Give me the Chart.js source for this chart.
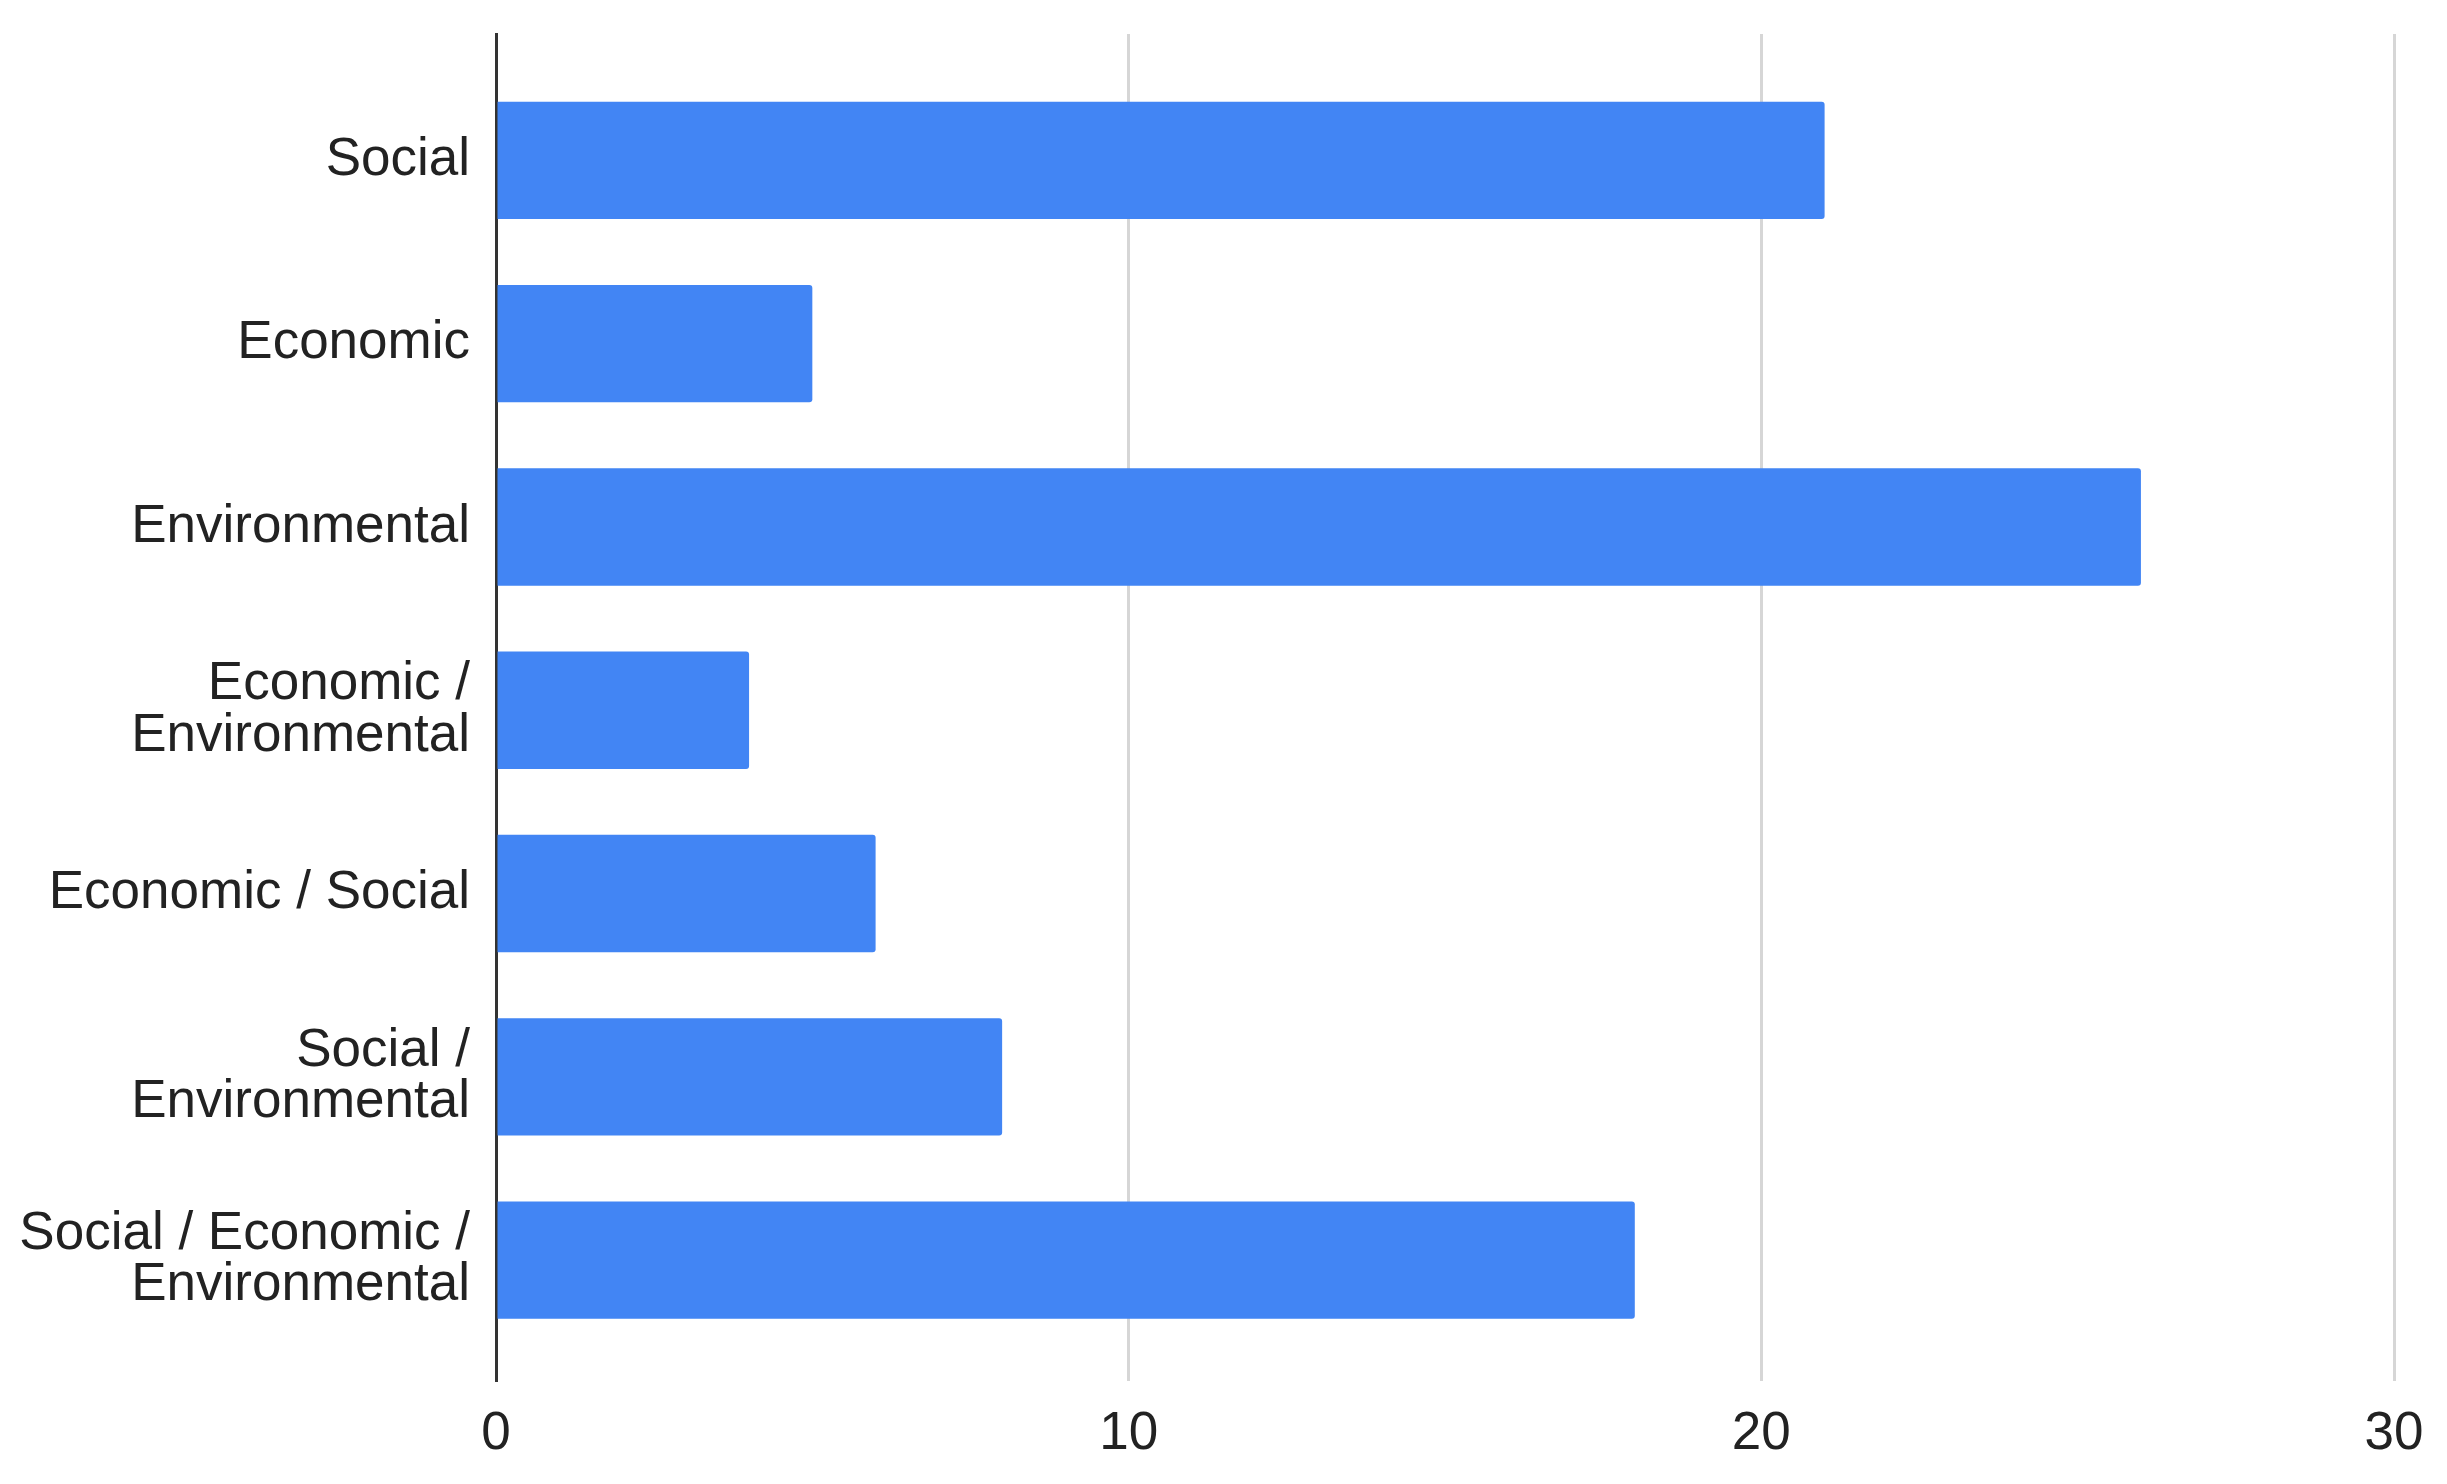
<!DOCTYPE html>
<html>
<head>
<meta charset="utf-8">
<script src="https://cdn.jsdelivr.net/npm/chart.js@4.4.1/dist/chart.umd.min.js"></script>
<style>
  html, body { margin: 0; padding: 0; background: #fff; }
  #wrap { width: 2447px; height: 1484px; }
</style>
</head>
<body>
<div id="wrap"><canvas id="myChart" width="2447" height="1484"></canvas></div>
<script>
// categories, top to bottom
const categories = [
  "Social",
  "Economic",
  "Environmental",
  ["Economic /", "Environmental"],
  "Economic / Social",
  ["Social /", "Environmental"],
  ["Social / Economic /", "Environmental"]
];
const counts = [21, 5, 26, 4, 6, 8, 18];
const xTicks = [0, 10, 20, 30];

const barColor = "#4285F4";
const fontFamily = "'Liberation Sans', Arial, sans-serif";

//bars sit on a linear index axis so the axis line can run past the first/last bar
const barData = counts.map((v, i) => ({ x: v, y: i }));

const ctx = document.getElementById("myChart").getContext("2d");
new Chart(ctx, {
  type: "bar",
  data: {
    datasets: [
      {
        label: "count",
        data: barData,
        backgroundColor: barColor,
        borderWidth: 0,
        borderRadius: 3,
        borderSkipped: "start",
        barPercentage: 0.64,
        categoryPercentage: 1,
      },
    ],
  },
  options: {
    indexAxis: "y",
    responsive: false,
    animation: false,
    layout: { padding: { top: 34, right: 53, bottom: 0, left: 0 } },
    plugins: {
      legend: { display: false },
      tooltip: { enabled: false },
    },
    scales: {
      x: {
        type: "linear",
        min: xTicks[0],
        max: xTicks[xTicks.length - 1],
        afterBuildTicks: (scale) => {
          scale.ticks = xTicks.map((v) => ({ value: v }));
        },
        afterFit: (scale) => {
          scale.height = 103;
        },
        grid: {
          color: (c) => (c.index === 0 ? "rgba(0,0,0,0)" : "#d6d6d6"),
          lineWidth: 3,
          drawTicks: false,
        },
        border: { display: false },
        ticks: {
          color: "#222",
          padding: 22,
          font: { family: fontFamily, size: 53 },
        },
      },
      y: {
        type: "linear",
        reverse: true,
        offset: false,
        min: -0.69,
        max: 6.66,
        afterBuildTicks: (scale) => {
          scale.ticks = categories.map((c, i) => ({ value: i }));
        },
        afterFit: (scale) => {
          scale.width = 496;
          scale.paddingTop = 0;
          scale.paddingBottom = 0;
        },
        grid: { display: false, drawTicks: false },
        border: { display: true, color: "#333", width: 3 },
        ticks: {
          autoSkip: false,
          color: "#222",
          padding: 26,
          font: { family: fontFamily, size: 53, lineHeight: 0.97 },
          callback: (value) => categories[value],
        },
      },
    },
  },
});
</script>
</body>
</html>
